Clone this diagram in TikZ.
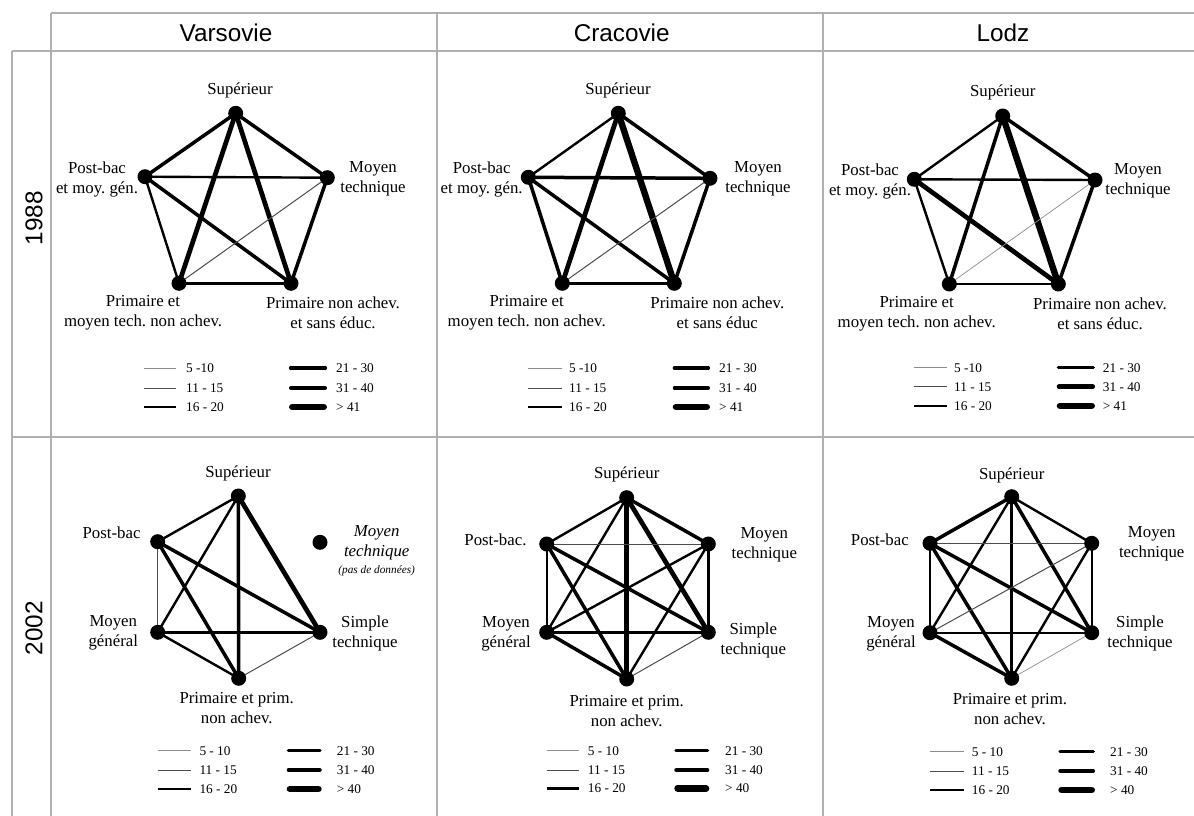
\documentclass[tikz,border=0pt]{standalone}
\usepackage{fontspec}
\setmainfont{Liberation Serif}
\newfontfamily\hdrfont{Liberation Sans}
\frenchspacing
\pgfdeclarelayer{bg}
\pgfdeclarelayer{edges}
\pgfsetlayers{bg,edges,main}
\definecolor{framegray}{HTML}{B0B0B0}
\newcommand\lgd[7]{%
  \coordinate (#1a) at (#2,#5);
  \coordinate (#1b) at (#3,#5);
  \draw[#6] (#1a) -- (#1b);
  \node[lgt] (#1t) at (#4,#5) {#7};}
\newcommand\edg[3]{\draw[#1] (#2.center) -- (#3.center);}
\begin{document}
\begin{tikzpicture}[x=1pt,y=-1pt,
  frame/.style={draw=framegray,line width=2.8pt},
  dot/.style={circle,fill=black,inner sep=0pt,minimum size=15pt},
  lab/.style={align=center,inner sep=0pt,font=\fontsize{16.8}{20}\selectfont},
  lgt/.style={anchor=west,inner sep=0pt,font=\fontsize{13.3}{15}\selectfont},
  hdr/.style={inner sep=0pt,font=\hdrfont\fontsize{24.3}{28}\selectfont},
  e1/.style={draw=black!45,line width=0.7pt},
  e2/.style={draw=black!70,line width=1pt},
  e3/.style={draw=black,line width=2.4pt},
  e4/.style={draw=black,line width=3.5pt},
  e5/.style={draw=black,line width=4.7pt},
  e6/.style={draw=black,line width=6.4pt},
  l4/.style={e4,line cap=round,shorten <=1.7pt,shorten >=1.7pt},
  l5/.style={e5,line cap=round,shorten <=2.3pt,shorten >=2.3pt},
  l6/.style={e6,line cap=round,shorten <=3.2pt,shorten >=3.2pt}]
\useasboundingbox (0,0) rectangle (1194,816);
\begin{pgfonlayer}{bg}
\fill[white] (0,0) rectangle (1194,816);
\end{pgfonlayer}
% frame
\draw[frame] (51,13) -- (1194,13);
\draw[frame] (12,51) -- (1194,51);
\draw[frame] (12,437) -- (1194,437);
\draw[frame] (12,51) -- (12,816);
\draw[frame] (51,13) -- (51,816);
\draw[frame] (437,13) -- (437,816);
\draw[frame] (823,13) -- (823,816);
% headers
\node[hdr] (hV) at (226,33) {Varsovie};
\node[hdr] (hC) at (621.7,33) {Cracovie};
\node[hdr] (hL) at (1003,33) {Lodz};
\node[hdr,rotate=90] (y88) at (34,218) {1988};
\node[hdr,rotate=90] (y02) at (34,628) {2002};

% ===== Varsovie 1988 =====
\node[dot] (aS) at (235.7,113.3) {};
\node[dot] (aP) at (145,176.7) {};
\node[dot] (aM) at (327.3,177.7) {};
\node[dot] (aE) at (179,283.3) {};
\node[dot] (aN) at (291,283.3) {};
\node[lab] (aSl) at (240,90) {Supérieur};
\node[lab] (aPl) at (97,179) {Post-bac\\et moy. gén.};
\node[lab] (aMl) at (373,179) {Moyen\\technique};
\node[lab] (aEl) at (143,313) {Primaire et\\moyen tech. non achev.};
\node[lab] (aNl) at (333,313) {Primaire non achev.\\et sans éduc.};
\begin{pgfonlayer}{edges}
\edg{e4}{aS}{aP} \edg{e4}{aS}{aM} \edg{e5}{aS}{aE} \edg{e5}{aS}{aN}
\edg{e3}{aP}{aM} \edg{e3}{aP}{aE} \edg{e4}{aP}{aN}
\edg{e2}{aM}{aE} \edg{e4}{aM}{aN} \edg{e3}{aE}{aN}
\end{pgfonlayer}
\lgd{aL1}{144}{176}{186}{368}{e1}{5 -10}
\lgd{aL2}{144}{176}{186}{388}{e2}{11 - 15}
\lgd{aL3}{144}{176}{186}{407}{e3}{16 - 20}
\lgd{aL4}{289}{327}{336}{368}{l4}{21 - 30}
\lgd{aL5}{289}{327}{336}{388}{l5}{31 - 40}
\lgd{aL6}{289}{327}{336}{407}{l6}{> 41}

% ===== Cracovie 1988 =====
\node[dot] (bS) at (618.3,113.3) {};
\node[dot] (bP) at (528.3,177.3) {};
\node[dot] (bM) at (710,178.3) {};
\node[dot] (bE) at (562.3,283.3) {};
\node[dot] (bN) at (674.3,283.3) {};
\node[lab] (bSl) at (618,90) {Supérieur};
\node[lab] (bPl) at (481.7,179) {Post-bac\\et moy. gén.};
\node[lab] (bMl) at (758,179) {Moyen\\technique};
\node[lab] (bEl) at (526.7,313) {Primaire et\\moyen tech. non achev.};
\node[lab] (bNl) at (717.3,313) {Primaire non achev.\\et sans éduc};
\begin{pgfonlayer}{edges}
\edg{e3}{bS}{bP} \edg{e4}{bS}{bM} \edg{e5}{bS}{bE} \edg{e6}{bS}{bN}
\edg{e4}{bP}{bM} \edg{e4}{bP}{bE} \edg{e4}{bP}{bN}
\edg{e2}{bM}{bE} \edg{e4}{bM}{bN} \edg{e4}{bE}{bN}
\end{pgfonlayer}
\lgd{bL1}{527.7}{561.7}{569}{368}{e1}{5 -10}
\lgd{bL2}{527.7}{561.7}{569}{388}{e2}{11 - 15}
\lgd{bL3}{527.7}{561.7}{569}{407}{e3}{16 - 20}
\lgd{bL4}{672.7}{710}{719}{368}{l4}{21 - 30}
\lgd{bL5}{672.7}{710}{719}{388}{l5}{31 - 40}
\lgd{bL6}{672.7}{710}{719}{407}{l6}{> 41}

% ===== Lodz 1988 =====
\node[dot] (cS) at (1002.7,116) {};
\node[dot] (cP) at (914.3,179.3) {};
\node[dot] (cM) at (1095,180) {};
\node[dot] (cE) at (949.3,284) {};
\node[dot] (cN) at (1058.3,284) {};
\node[lab] (cSl) at (1002.7,92) {Supérieur};
\node[lab] (cPl) at (870,181) {Post-bac\\et moy. gén.};
\node[lab] (cMl) at (1138,181) {Moyen\\technique};
\node[lab] (cEl) at (916.7,314) {Primaire et\\moyen tech. non achev.};
\node[lab] (cNl) at (1100,314) {Primaire non achev.\\et sans éduc.};
\begin{pgfonlayer}{edges}
\edg{e3}{cS}{cP} \edg{e4}{cS}{cM} \edg{e4}{cS}{cE} \edg{e6}{cS}{cN}
\edg{e3}{cP}{cM} \edg{e3}{cP}{cE} \edg{e5}{cP}{cN}
\edg{e1}{cM}{cE} \edg{e4}{cM}{cN} \edg{e3}{cE}{cN}
\end{pgfonlayer}
\lgd{cL1}{914}{946.7}{954}{367.7}{e1}{5 -10}
\lgd{cL2}{914}{946.7}{954}{386.7}{e2}{11 - 15}
\lgd{cL3}{914}{946.7}{954}{405.7}{e3}{16 - 20}
\lgd{cL4}{1056.7}{1095}{1102.7}{367.7}{l4}{21 - 30}
\lgd{cL5}{1056.7}{1095}{1102.7}{386.7}{l5}{31 - 40}
\lgd{cL6}{1056.7}{1095}{1102.7}{405.7}{l6}{> 41}

% ===== Varsovie 2002 =====
\node[dot] (dS) at (238.3,496) {};
\node[dot] (dP) at (157.7,541.7) {};
\node[dot] (dG) at (157.7,632.3) {};
\node[dot] (dR) at (238.7,678.3) {};
\node[dot] (dT) at (320,632.3) {};
\node[dot] (dM) at (320,542.3) {};
\node[lab] (dSl) at (238,473) {Supérieur};
\node[lab,anchor=east] (dPl) at (140.7,533) {Post-bac};
\node[lab] (dGl) at (113.3,633) {Moyen\\général};
\node[lab] (dTl) at (365,633) {Simple\\technique};
\node[lab,font=\fontsize{16.8}{20}\selectfont\itshape] (dMl) at (376.7,543) {Moyen\\technique};
\node[lab,font=\fontsize{11.3}{13}\selectfont\itshape] (dMn) at (376.7,570.5) {(pas de données)};
\node[lab] (dRl) at (236.7,708) {Primaire et prim.\\non achev.};
\begin{pgfonlayer}{edges}
\edg{e3}{dS}{dP} \edg{e3}{dS}{dG} \edg{e4}{dS}{dR} \edg{e5}{dS}{dT}
\edg{e2}{dP}{dG} \edg{e4}{dP}{dR} \edg{e4}{dP}{dT}
\edg{e3}{dG}{dT} \edg{e3}{dG}{dR} \edg{e2}{dR}{dT}
\end{pgfonlayer}
\lgd{dL1}{157.7}{190.7}{199.3}{750.7}{e1}{5 - 10}
\lgd{dL2}{157.7}{190.7}{199.3}{770}{e2}{11 - 15}
\lgd{dL3}{157.7}{190.7}{199.3}{789}{e3}{16 - 20}
\lgd{dL4}{286.7}{321.7}{336.7}{750.7}{l4}{21 - 30}
\lgd{dL5}{286.7}{321.7}{336.7}{770}{l5}{31 - 40}
\lgd{dL6}{286.7}{321.7}{336.7}{789}{l6}{> 40}

% ===== Cracovie 2002 =====
\node[dot] (fS) at (626.7,497.7) {};
\node[dot] (fP) at (546.7,544) {};
\node[dot] (fM) at (708.3,544) {};
\node[dot] (fG) at (546.7,632.3) {};
\node[dot] (fT) at (708.3,632.3) {};
\node[dot] (fR) at (626.7,679) {};
\node[lab] (fSl) at (626.7,474.6) {Supérieur};
\node[lab,anchor=east] (fPl) at (526.7,539.6) {Post-bac.};
\node[lab] (fMl) at (764.3,544.6) {Moyen\\technique};
\node[lab] (fGl) at (506,633.6) {Moyen\\général};
\node[lab] (fTl) at (753.3,640.3) {Simple\\technique};
\node[lab] (fRl) at (626.7,711.3) {Primaire et prim.\\non achev.};
\begin{pgfonlayer}{edges}
\edg{e3}{fS}{fP} \edg{e4}{fS}{fM} \edg{e3}{fS}{fG} \edg{e5}{fS}{fR} \edg{e5}{fS}{fT}
\edg{e2}{fP}{fM} \edg{e3}{fP}{fG} \edg{e4}{fP}{fT} \edg{e4}{fP}{fR}
\edg{e3}{fM}{fG} \edg{e3}{fM}{fT} \edg{e3}{fM}{fR}
\edg{e4}{fG}{fT} \edg{e4}{fG}{fR} \edg{e2}{fT}{fR}
\end{pgfonlayer}
\lgd{fL1}{546.7}{579.3}{587.7}{750.7}{e1}{5 - 10}
\lgd{fL2}{546.7}{579.3}{587.7}{770}{e2}{11 - 15}
\lgd{fL3}{546.7}{579.3}{587.7}{788.3}{e3}{16 - 20}
\lgd{fL4}{674.3}{709.3}{725}{750.7}{l4}{21 - 30}
\lgd{fL5}{674.3}{709.3}{725}{770}{l5}{31 - 40}
\lgd{fL6}{674.3}{709.3}{725}{788.3}{l6}{> 40}

% ===== Lodz 2002 =====
\node[dot] (gS) at (1011.7,496.7) {};
\node[dot] (gP) at (930,543.3) {};
\node[dot] (gM) at (1091.7,543.3) {};
\node[dot] (gG) at (930,632.7) {};
\node[dot] (gT) at (1091.7,632.7) {};
\node[dot] (gR) at (1011.7,678.3) {};
\node[lab] (gSl) at (1011.7,475.6) {Supérieur};
\node[lab,anchor=east] (gPl) at (909,539.6) {Post-bac};
\node[lab] (gMl) at (1151.7,544) {Moyen\\technique};
\node[lab] (gGl) at (891,633.6) {Moyen\\général};
\node[lab] (gTl) at (1140,633.6) {Simple\\technique};
\node[lab] (gRl) at (1010,709) {Primaire et prim.\\non achev.};
\begin{pgfonlayer}{edges}
\edg{e4}{gS}{gP} \edg{e3}{gS}{gM} \edg{e3}{gS}{gG} \edg{e4}{gS}{gR} \edg{e4}{gS}{gT}
\edg{e2}{gP}{gM} \edg{e3}{gP}{gG} \edg{e4}{gP}{gT} \edg{e4}{gP}{gR}
\edg{e2}{gM}{gG} \edg{e3}{gM}{gT} \edg{e3}{gM}{gR}
\edg{e3}{gG}{gT} \edg{e4}{gG}{gR} \edg{e1}{gT}{gR}
\end{pgfonlayer}
\lgd{gL1}{930}{964}{971.7}{751.7}{e1}{5 - 10}
\lgd{gL2}{930}{964}{971.7}{771}{e2}{11 - 15}
\lgd{gL3}{930}{964}{971.7}{790}{e3}{16 - 20}
\lgd{gL4}{1058.3}{1095}{1110}{751.7}{l4}{21 - 30}
\lgd{gL5}{1058.3}{1095}{1110}{771}{l5}{31 - 40}
\lgd{gL6}{1058.3}{1095}{1110}{790}{l6}{> 40}
\end{tikzpicture}
\end{document}
